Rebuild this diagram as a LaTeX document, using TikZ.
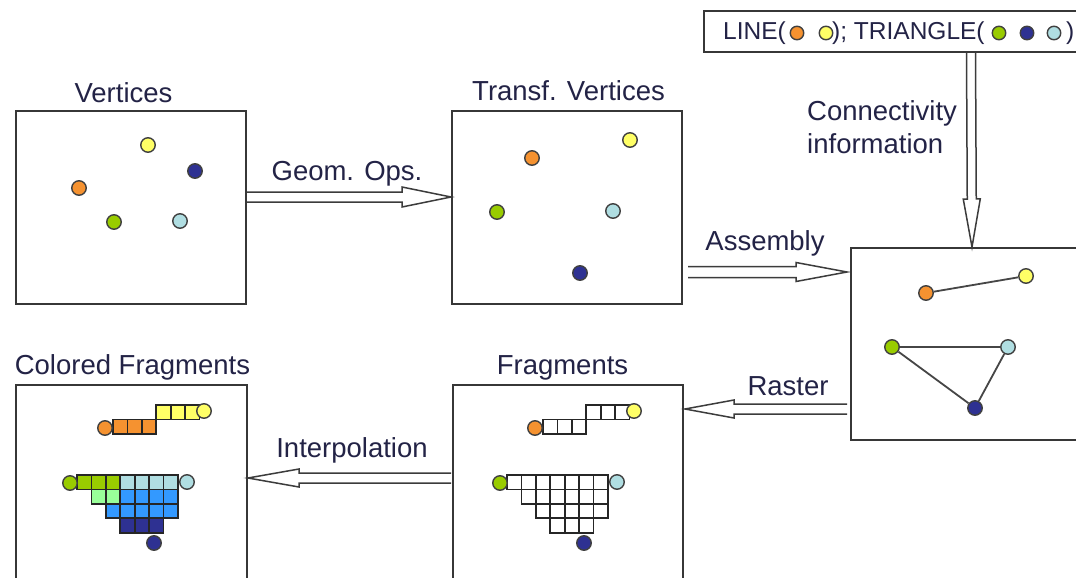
\documentclass[tikz,border=0pt]{standalone}
\usepackage{fontspec}
\setmainfont{Liberation Sans}
\usetikzlibrary{calc}
\definecolor{cOr}{RGB}{245,146,48}
\definecolor{cYe}{RGB}{255,255,102}
\definecolor{cGr}{RGB}{153,204,0}
\definecolor{cNa}{RGB}{46,49,146}
\definecolor{cLb}{RGB}{176,222,226}
\definecolor{cBl}{RGB}{51,153,255}
\definecolor{cPg}{RGB}{153,255,153}
\definecolor{boxc}{RGB}{55,55,55}
\definecolor{dotc}{RGB}{64,64,64}
\definecolor{txtc}{RGB}{35,35,70}
\definecolor{arrc}{RGB}{60,60,60}
\definecolor{linec}{RGB}{70,70,70}
\tikzset{
 box/.style={draw=boxc, line width=2, fill=white, inner sep=0},
 dot/.style={circle, draw=dotc, line width=1.4, minimum size=14.5, inner sep=0},
 lab/.style={font=\fontsize{27.5}{33}\selectfont, text=txtc, inner sep=0, anchor=base},
 labsm/.style={font=\fontsize{24.5}{29}\selectfont, text=txtc, inner sep=0, anchor=base west},
 sq/.style={draw=black!85, line width=1.8},
 barrowstyle/.style={draw=arrc, line width=1.5, line join=miter},
 conn/.style={draw=linec, line width=1.8},
}
\newcommand\barrow[5]{%
 \coordinate (hb) at ($(#2)!#3pt!(#1)$);
 \draw[barrowstyle] ($(#1)!#4pt!90:(#2)$) -- ($(hb)!#4pt!90:(#2)$) -- ($(hb)!#5pt!90:(#2)$) -- (#2) -- ($(hb)!#5pt!-90:(#2)$) -- ($(hb)!#4pt!-90:(#2)$) -- ($(#1)!#4pt!-90:(#2)$);}
\begin{document}
\begin{tikzpicture}[x=1pt,y=-1pt]
\useasboundingbox (0,0) rectangle (1076,578);
\fill[white] (0,0) rectangle (1076,578);
\clip (0,0) rectangle (1076,578);
% boxes
\node[box, minimum width=230, minimum height=193] (v) at (131,207.5) {};
\node[box, minimum width=230, minimum height=193] (t) at (567,207.5) {};
\node[box, minimum width=230, minimum height=192] (a) at (966,344) {};
\node[box, minimum width=230, minimum height=200] (f) at (568,485) {};
\node[box, minimum width=231, minimum height=200] (c) at (131.5,485) {};
\node[box, minimum width=396, minimum height=41] (lbl) at (902,31.5) {};
% arrows
\coordinate (g1) at ($(v.east)+(0,-10.5)$);
\coordinate (g2) at ($(t.west)+(0,-10.5)$);
\coordinate (as1) at ($(t.east)+(5,64.5)$);
\coordinate (as2) at ($(a.west)+(-3,-72)$);
\coordinate (r1) at ($(a.west)+(-3,65)$);
\coordinate (r2) at ($(f.east)+(1,-76)$);
\coordinate (i1) at ($(f.west)+(-1,-7)$);
\coordinate (i2) at ($(c.east)+(0,-7)$);
\coordinate (c1) at ($(lbl.south west)+(268,0)$);
\coordinate (c2) at ($(a.north)+(6,0)$);
\barrow{g1}{g2}{49}{5}{10}
\barrow{as1}{as2}{51}{5.5}{9.5}
\barrow{r1}{r2}{49}{5}{9}
\barrow{i1}{i2}{51}{5}{9}
\barrow{c1}{c2}{48}{4.5}{8.5}
% labels
\node[lab] (lv) at (123.5,102) {Vertices};
\node[lab] (lt) at (568.5,100) {Transf. Vertices};
\node[lab] (lcf) at (132.5,374) {Colored Fragments};
\node[lab] (lf) at (562.5,374) {Fragments};
\node[lab] (lg) at (347,180) {Geom. Ops.};
\node[lab] (la) at (765,250) {Assembly};
\node[lab] (lr) at (788,395) {Raster};
\node[lab] (li) at (352,457) {Interpolation};
\node[lab, anchor=base west] (lc1) at (807,120) {Connectivity};
\node[lab, anchor=base west] (lc2) at (807,153) {information};
% top label content
\node[labsm] (tx1) at (723,40) {LINE(};
\node[dot, minimum size=13.5, fill=cOr] (d1) at (797,33) {};
\node[dot, minimum size=13.5, fill=cYe] (d2) at (826,33) {};
\node[labsm] (tx2) at (832,40) {); TRIANGLE(};
\node[dot, minimum size=13.5, fill=cGr] (d3) at (999,33) {};
\node[dot, minimum size=13.5, fill=cNa] (d4) at (1027,33) {};
\node[dot, minimum size=13.5, fill=cLb] (d5) at (1054,33) {};
\node[labsm] (tx3) at (1066,40) {)};
% vertices
\node[dot, fill=cYe] (v1) at (148,145) {};
\node[dot, fill=cNa] (v2) at (195,171) {};
\node[dot, fill=cOr] (v3) at (79,188) {};
\node[dot, fill=cGr] (v4) at (114,222) {};
\node[dot, fill=cLb] (v5) at (180,221) {};
% transformed vertices
\node[dot, fill=cYe] (w1) at (630,140) {};
\node[dot, fill=cOr] (w2) at (532,158) {};
\node[dot, fill=cGr] (w3) at (497,212) {};
\node[dot, fill=cLb] (w4) at (613,211) {};
\node[dot, fill=cNa] (w5) at (580,273) {};
% assembled primitives
\node[dot, fill=cOr] (ao) at (926,293) {};
\node[dot, fill=cYe] (ay) at (1026,276) {};
\node[dot, fill=cGr] (ag) at (892,347) {};
\node[dot, fill=cLb] (al) at (1008,347) {};
\node[dot, fill=cNa] (an) at (975,408) {};
\draw[conn] (ao) -- (ay);
\draw[conn] (ag) -- (al) -- (an) -- (ag);
% fragments
\def\q{14.4}
\foreach \i in {0,1,2} \draw[sq] ({543+\i*\q},419.5) rectangle ++(\q,\q);
\foreach \i in {3,4,5} \draw[sq] ({543+\i*\q},{419.5-\q}) rectangle ++(\q,\q);
\foreach \r/\a/\b in {0/0/6,1/1/6,2/2/6,3/3/5}
  \foreach \cc in {\a,...,\b}
    \draw[sq] ({507+\cc*\q},{475+\r*\q}) rectangle ++(\q,\q);
\node[dot, fill=cOr] (fo) at (535,428) {};
\node[dot, fill=cYe] (fy) at (634,411) {};
\node[dot, fill=cGr] (fg) at (500,483) {};
\node[dot, fill=cLb] (fl) at (617,482) {};
\node[dot, fill=cNa] (fn) at (584,543) {};
% colored fragments
\foreach \i in {0,1,2} \draw[sq, fill=cOr] ({113+\i*\q},419.5) rectangle ++(\q,\q);
\foreach \i in {3,4,5} \draw[sq, fill=cYe] ({113+\i*\q},{419.5-\q}) rectangle ++(\q,\q);
\foreach \r/\cc/\col in {0/0/cGr,0/1/cGr,0/2/cGr,0/3/cLb,0/4/cLb,0/5/cLb,0/6/cLb,
  1/1/cPg,1/2/cPg,1/3/cBl,1/4/cBl,1/5/cBl,1/6/cBl,
  2/2/cBl,2/3/cBl,2/4/cBl,2/5/cBl,2/6/cBl,
  3/3/cNa,3/4/cNa,3/5/cNa}
    \draw[sq, fill=\col] ({77+\cc*\q},{475+\r*\q}) rectangle ++(\q,\q);
\node[dot, fill=cOr] (co) at (105,428) {};
\node[dot, fill=cYe] (cy) at (204,411) {};
\node[dot, fill=cGr] (cg) at (70,483) {};
\node[dot, fill=cLb] (cl) at (187,482) {};
\node[dot, fill=cNa] (cn) at (154,543) {};
\end{tikzpicture}
\end{document}
